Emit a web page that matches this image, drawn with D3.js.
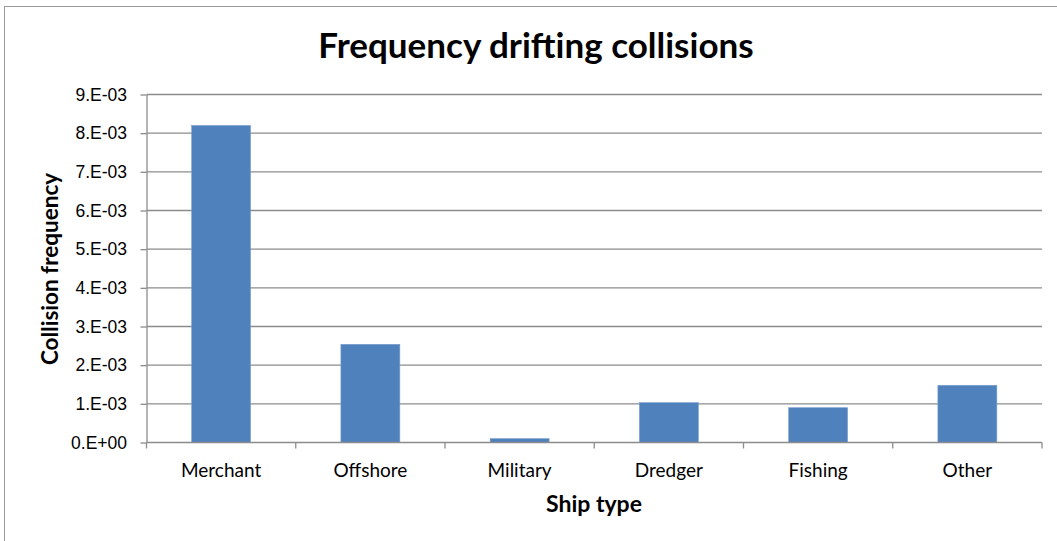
<!DOCTYPE html>
<html>
<head>
<meta charset="utf-8">
<script src="https://cdn.jsdelivr.net/npm/d3@7"></script>
<style>
	body { margin: 0; background: #fff; }
	svg { display: block; font-family: Lato, "Open Sans", sans-serif; }
	.grid line { stroke: #8c8c8c; stroke-width: 1.3; }
	.axis path, .axis line { stroke: #8c8c8c; stroke-width: 1.3; }
	.axis text { fill: #000; }
</style>
</head>
<body>
<svg id="vis" width="1057" height="541"></svg>
<script>
// chart data
const shipTypes = ["Merchant", "Offshore", "Military", "Dredger", "Fishing", "Other"];
const frequencies = [8.2e-3, 2.54e-3, 0.1e-3, 1.03e-3, 0.9e-3, 1.48e-3];
const yTicks = [0, 1e-3, 2e-3, 3e-3, 4e-3, 5e-3, 6e-3, 7e-3, 8e-3, 9e-3];

const svg = d3.select("svg#vis");

const margin = {left: 146.5, right: 1042, top: 94.5, bottom: 442.5};

// outer chart frame
svg.append("rect")
	.attr("x", 4.5)
	.attr("y", 6.5)
	.attr("width", 1060)
	.attr("height", 540)
	.attr("fill", "none")
	.attr("stroke", "#9a9a9a")
	.attr("stroke-width", 1);

const x = d3.scaleBand()
	.domain(shipTypes)
	.range([margin.left, margin.right])
	.padding(0);

const y = d3.scaleLinear()
	.domain([0, 9e-3])
	.range([margin.bottom, margin.top]);

// excel style labels, like 8.E-03
let sci = function(v) {
	if (v === 0) return "0.E+00";
	const e = Math.floor(Math.log10(v) + 1e-9);
	const m = Math.round(v / Math.pow(10, e));
	const es = (e < 0 ? "-" : "+") + String(Math.abs(e)).padStart(2, "0");
	return m + ".E" + es;
};

// horizontal gridlines
svg.append("g")
	.attr("class", "grid")
	.selectAll("line")
	.data(yTicks.filter(d => d > 0))
	.join("line")
	.attr("x1", margin.left)
	.attr("x2", margin.right)
	.attr("y1", d => y(d))
	.attr("y2", d => y(d));

// bars
const barW = x.bandwidth() * 0.395;
svg.append("g")
	.selectAll("rect")
	.data(shipTypes)
	.join("rect")
	.attr("x", (d, i) => x(d) + (x.bandwidth() - barW) / 2)
	.attr("y", (d, i) => y(frequencies[i]))
	.attr("width", barW)
	.attr("height", (d, i) => y(0) - y(frequencies[i]))
	.attr("fill", "#4f81bd")
	.attr("stroke", "#7a9fd0")
	.attr("stroke-width", 0.6);

// y axis
const yAxis = svg.append("g")
	.attr("class", "axis")
	.attr("transform", "translate(" + margin.left + ",0)")
	.call(d3.axisLeft(y).tickValues(yTicks).tickFormat(sci).tickSize(6).tickSizeOuter(0));
yAxis.selectAll("text")
	.attr("x", -19.5)
	.style("font-size", "17.5px");

// x axis, ticks at category edges
const xAxis = svg.append("g")
	.attr("class", "axis")
	.attr("transform", "translate(0," + margin.bottom + ")");
xAxis.append("line")
	.attr("x1", margin.left).attr("x2", margin.right)
	.attr("y1", 0).attr("y2", 0);
xAxis.selectAll("line.tick")
	.data(shipTypes.concat(["end"]))
	.join("line")
	.attr("class", "tick")
	.attr("x1", (d, i) => i < shipTypes.length ? x(d) : margin.right)
	.attr("x2", (d, i) => i < shipTypes.length ? x(d) : margin.right)
	.attr("y1", 0)
	.attr("y2", 6);
xAxis.selectAll("text")
	.data(shipTypes)
	.join("text")
	.attr("x", d => x(d) + x.bandwidth() / 2)
	.attr("y", 34)
	.attr("text-anchor", "middle")
	.style("font-size", "19px")
	.text(d => d);

// titles
svg.append("text")
	.attr("x", 536)
	.attr("y", 58)
	.attr("text-anchor", "middle")
	.style("font-size", "35px")
	.style("font-weight", "bold")
	.text("Frequency drifting collisions");

svg.append("text")
	.attr("x", 594)
	.attr("y", 512)
	.attr("text-anchor", "middle")
	.style("font-size", "23px")
	.style("font-weight", "bold")
	.text("Ship type");

svg.append("text")
	.attr("transform", "translate(58,269) rotate(-90)")
	.attr("text-anchor", "middle")
	.style("font-size", "22.5px")
	.style("font-weight", "bold")
	.text("Collision frequency");
</script>
</body>
</html>
